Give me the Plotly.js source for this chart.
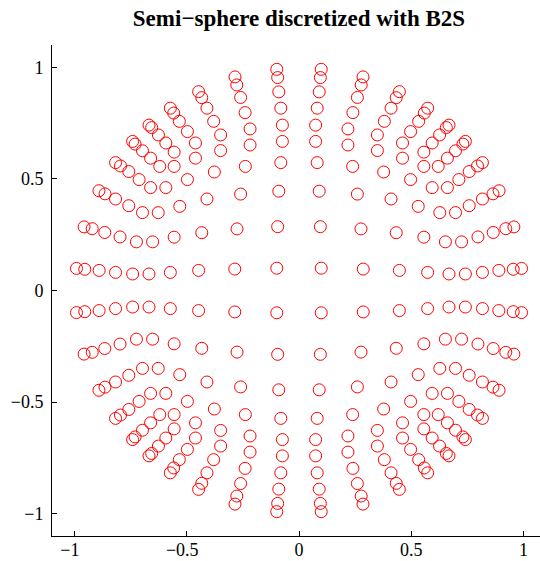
<!DOCTYPE html>
<html>
<head>
<meta charset="utf-8">
<script src="https://cdn.plot.ly/plotly-3.0.1.min.js"></script>
<style>
html,body{margin:0;padding:0;background:#fff;overflow:hidden;}
#chart{width:546px;height:561px;}
</style>
</head>
<body>
<div id="chart"></div>
<script>
// Upper-right quadrant (x>0, y>0)
var xQ1 = [0.099,0.095,0.090,0.081,0.074,0.074,0.081,0.090,0.095,0.099,
0.286,0.276,0.260,0.239,0.218,0.218,0.240,0.260,0.277,0.285,
0.447,0.433,0.410,0.377,0.349,0.349,0.380,0.410,0.433,0.447,
0.573,0.556,0.531,0.497,0.461,0.461,0.497,0.533,0.558,0.573,
0.668,0.652,0.627,0.593,0.556,0.556,0.593,0.626,0.656,0.668,
0.741,0.817,0.890,0.954,0.991,
0.724,0.797,0.865,0.921,0.957,
0.697,0.758,0.817,0.864,0.891,
0.661,0.712,0.758,0.795,0.817,
0.620,0.661,0.697,0.730,0.741];
var yQ1 = [0.100,0.286,0.445,0.573,0.668,0.741,0.817,0.890,0.954,0.991,
0.096,0.276,0.432,0.556,0.652,0.724,0.797,0.865,0.921,0.957,
0.090,0.259,0.410,0.531,0.627,0.697,0.758,0.817,0.864,0.891,
0.081,0.239,0.377,0.497,0.593,0.661,0.712,0.758,0.795,0.817,
0.074,0.218,0.349,0.461,0.556,0.620,0.661,0.697,0.730,0.741,
0.074,0.081,0.090,0.095,0.099,
0.218,0.240,0.260,0.277,0.285,
0.349,0.380,0.410,0.433,0.447,
0.461,0.497,0.533,0.558,0.573,
0.556,0.593,0.626,0.656,0.668];

// Upper-left quadrant (x<0, y>0)
var xQ2 = [-0.099,-0.095,-0.090,-0.081,-0.074,-0.074,-0.081,-0.090,-0.095,-0.099,
-0.286,-0.276,-0.260,-0.239,-0.218,-0.218,-0.240,-0.260,-0.277,-0.285,
-0.447,-0.433,-0.410,-0.377,-0.349,-0.349,-0.380,-0.410,-0.433,-0.447,
-0.573,-0.556,-0.531,-0.497,-0.461,-0.461,-0.497,-0.533,-0.558,-0.573,
-0.668,-0.652,-0.627,-0.593,-0.556,-0.556,-0.593,-0.626,-0.656,-0.668,
-0.741,-0.817,-0.890,-0.954,-0.991,
-0.724,-0.797,-0.865,-0.921,-0.957,
-0.697,-0.758,-0.817,-0.864,-0.891,
-0.661,-0.712,-0.758,-0.795,-0.817,
-0.620,-0.661,-0.697,-0.730,-0.741];
var yQ2 = [0.100,0.286,0.445,0.573,0.668,0.741,0.817,0.890,0.954,0.991,
0.096,0.276,0.432,0.556,0.652,0.724,0.797,0.865,0.921,0.957,
0.090,0.259,0.410,0.531,0.627,0.697,0.758,0.817,0.864,0.891,
0.081,0.239,0.377,0.497,0.593,0.661,0.712,0.758,0.795,0.817,
0.074,0.218,0.349,0.461,0.556,0.620,0.661,0.697,0.730,0.741,
0.074,0.081,0.090,0.095,0.099,
0.218,0.240,0.260,0.277,0.285,
0.349,0.380,0.410,0.433,0.447,
0.461,0.497,0.533,0.558,0.573,
0.556,0.593,0.626,0.656,0.668];

// Lower-left quadrant (x<0, y<0)
var xQ3 = [-0.099,-0.095,-0.090,-0.081,-0.074,-0.074,-0.081,-0.090,-0.095,-0.099,
-0.286,-0.276,-0.260,-0.239,-0.218,-0.218,-0.240,-0.260,-0.277,-0.285,
-0.447,-0.433,-0.410,-0.377,-0.349,-0.349,-0.380,-0.410,-0.433,-0.447,
-0.573,-0.556,-0.531,-0.497,-0.461,-0.461,-0.497,-0.533,-0.558,-0.573,
-0.668,-0.652,-0.627,-0.593,-0.556,-0.556,-0.593,-0.626,-0.656,-0.668,
-0.741,-0.817,-0.890,-0.954,-0.991,
-0.724,-0.797,-0.865,-0.921,-0.957,
-0.697,-0.758,-0.817,-0.864,-0.891,
-0.661,-0.712,-0.758,-0.795,-0.817,
-0.620,-0.661,-0.697,-0.730,-0.741];
var yQ3 = [-0.100,-0.286,-0.445,-0.573,-0.668,-0.741,-0.817,-0.890,-0.954,-0.991,
-0.096,-0.276,-0.432,-0.556,-0.652,-0.724,-0.797,-0.865,-0.921,-0.957,
-0.090,-0.259,-0.410,-0.531,-0.627,-0.697,-0.758,-0.817,-0.864,-0.891,
-0.081,-0.239,-0.377,-0.497,-0.593,-0.661,-0.712,-0.758,-0.795,-0.817,
-0.074,-0.218,-0.349,-0.461,-0.556,-0.620,-0.661,-0.697,-0.730,-0.741,
-0.074,-0.081,-0.090,-0.095,-0.099,
-0.218,-0.240,-0.260,-0.277,-0.285,
-0.349,-0.380,-0.410,-0.433,-0.447,
-0.461,-0.497,-0.533,-0.558,-0.573,
-0.556,-0.593,-0.626,-0.656,-0.668];

// Lower-right quadrant (x>0, y<0)
var xQ4 = [0.099,0.095,0.090,0.081,0.074,0.074,0.081,0.090,0.095,0.099,
0.286,0.276,0.260,0.239,0.218,0.218,0.240,0.260,0.277,0.285,
0.447,0.433,0.410,0.377,0.349,0.349,0.380,0.410,0.433,0.447,
0.573,0.556,0.531,0.497,0.461,0.461,0.497,0.533,0.558,0.573,
0.668,0.652,0.627,0.593,0.556,0.556,0.593,0.626,0.656,0.668,
0.741,0.817,0.890,0.954,0.991,
0.724,0.797,0.865,0.921,0.957,
0.697,0.758,0.817,0.864,0.891,
0.661,0.712,0.758,0.795,0.817,
0.620,0.661,0.697,0.730,0.741];
var yQ4 = [-0.100,-0.286,-0.445,-0.573,-0.668,-0.741,-0.817,-0.890,-0.954,-0.991,
-0.096,-0.276,-0.432,-0.556,-0.652,-0.724,-0.797,-0.865,-0.921,-0.957,
-0.090,-0.259,-0.410,-0.531,-0.627,-0.697,-0.758,-0.817,-0.864,-0.891,
-0.081,-0.239,-0.377,-0.497,-0.593,-0.661,-0.712,-0.758,-0.795,-0.817,
-0.074,-0.218,-0.349,-0.461,-0.556,-0.620,-0.661,-0.697,-0.730,-0.741,
-0.074,-0.081,-0.090,-0.095,-0.099,
-0.218,-0.240,-0.260,-0.277,-0.285,
-0.349,-0.380,-0.410,-0.433,-0.447,
-0.461,-0.497,-0.533,-0.558,-0.573,
-0.556,-0.593,-0.626,-0.656,-0.668];

var tickVals = [-1, -0.5, 0, 0.5, 1];
var xTickText = ['\u22121\u2002', '\u22120.5\u2002', '0', '0.5', '1'];
var yTickText = ['\u22121', '\u22120.5', '0', '0.5', '1'];
var titleText = 'Semi\u2212sphere discretized with B2S';

var xs = xQ1.concat(xQ2, xQ3, xQ4);
var ys = yQ1.concat(yQ2, yQ3, yQ4);

var trace = {
  x: xs, y: ys, type: 'scatter', mode: 'markers',
  marker: {symbol: 'circle-open', size: 12, color: '#ff0000', line: {width: 1, color: '#ff0000'}},
  hoverinfo: 'none'
};

var fontFam = 'Liberation Serif, Times New Roman, serif';

function axis(ticktext, standoff) {
  return {
    range: [-1.1, 1.1],
    tickmode: 'array', tickvals: tickVals, ticktext: ticktext,
    ticks: 'inside', ticklen: 5, tickwidth: 1, tickcolor: '#000',
    showline: true, linecolor: '#000', linewidth: 1,
    showgrid: false, zeroline: false, mirror: false,
    tickfont: {family: fontFam, size: 18, color: '#000'},
    ticklabelstandoff: standoff,
    fixedrange: true
  };
}

var layout = {
  width: 546, height: 561,
  margin: {l: 52, r: 0, t: 45, b: 25, pad: 0},
  paper_bgcolor: '#fff', plot_bgcolor: '#fff',
  showlegend: false,
  title: {
    text: '<b>' + titleText + '</b>',
    font: {family: fontFam, size: 23, color: '#000'},
    x: 0.5, xref: 'paper', xanchor: 'center',
    y: 0.968, yref: 'container', yanchor: 'middle'
  },
  xaxis: axis(xTickText, -3),
  yaxis: axis(yTickText, 4)
};

Plotly.newPlot('chart', [trace], layout, {displayModeBar: false, staticPlot: true});
</script>
</body>
</html>
